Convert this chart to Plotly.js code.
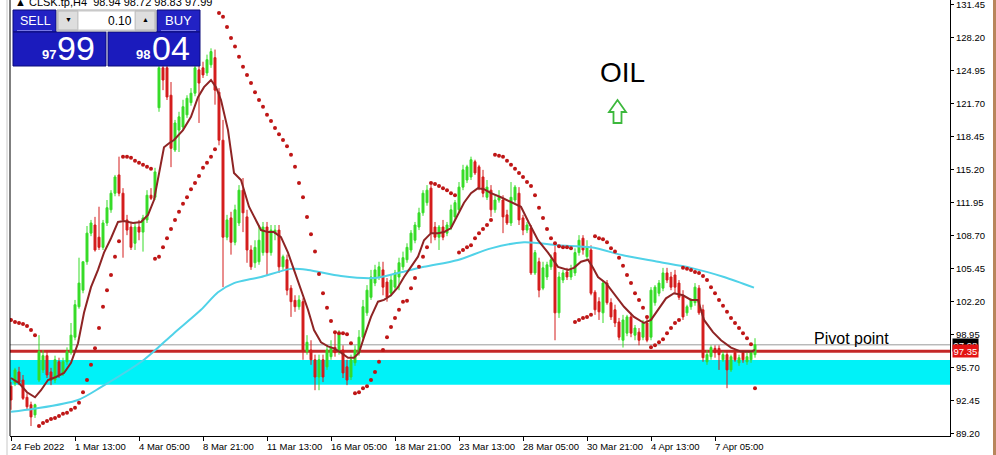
<!DOCTYPE html>
<html><head><meta charset="utf-8">
<script src="https://cdn.plot.ly/plotly-3.0.1.min.js"></script>
<style>html,body{margin:0;padding:0;background:#fff}#chart{width:996px;height:455px}</style>
</head><body><div id="chart"></div>
<script>
// ---- data ----
const openP = [
93.91,94.21,95.31,94.51,92.81,92.08,91.08,94.51,95.51,96.91,
95.31,94.51,96.31,95.21,96.31,97.21,98.73,101.73,103.36,106.16,
108.98,109.78,108.58,107.58,109.98,111.28,112.91,114.71,112.91,110.28,
109.58,107.98,109.58,109.08,110.28,112.71,112.51,121.33,125.26,125.26,
122.56,117.17,119.13,119.43,120.63,121.83,122.76,125.06,125.26,124.76,
125.56,126.26,122.86,118.13,108.58,110.48,108.08,109.98,113.21,110.58,
107.32,106.06,106.16,107.06,109.58,107.06,108.98,109.28,105.66,106.36,
103.56,102.36,101.73,102.23,97.31,97.47,96.51,94.81,96.51,95.81,
96.81,97.73,97.47,97.47,95.81,94.81,96.21,97.21,98.73,101.13,
102.66,104.06,104.66,105.36,104.16,103.06,103.66,104.66,105.66,106.36,
107.32,108.28,109.58,110.98,111.98,113.41,109.58,108.58,109.58,108.98,
109.58,110.58,111.28,113.51,114.21,114.51,116.01,115.51,114.51,112.51,
113.21,111.28,112.24,112.24,110.78,109.98,112.24,112.91,110.48,109.28,
109.48,105.06,106.16,103.56,104.66,105.66,107.06,101.13,104.36,105.16,
104.66,105.06,107.06,108.48,106.66,107.32,103.16,102.23,101.13,104.06,
102.13,101.43,100.23,98.43,99.13,100.73,98.93,99.23,98.73,100.13,
98.73,102.13,103.06,103.56,105.06,104.66,104.86,104.06,102.86,101.13,
101.73,102.13,103.56,101.43,96.31,96.81,97.63,97.63,96.51,97.01,
95.51,97.21,96.21,97.21,96.31,96.51,97.01];
const highP = [
94.31,95.71,95.81,95.01,93.21,92.38,92.18,98.93,97.47,97.47,
95.71,96.91,96.71,96.71,97.73,100.13,102.40,106.56,106.16,109.68,
110.28,110.58,111.58,110.28,112.24,113.21,114.71,116.51,113.41,110.78,
110.08,110.08,110.28,110.78,113.21,113.41,115.41,130.50,128.98,125.86,
123.86,120.13,120.93,122.11,122.56,123.26,125.86,125.56,125.86,126.56,
127.18,127.06,123.26,120.13,110.78,111.08,111.78,113.71,114.41,111.28,
107.78,108.28,109.78,110.08,110.08,109.78,109.78,109.78,106.86,106.86,
103.86,102.86,102.86,102.56,98.93,98.43,97.01,97.01,97.01,97.93,
98.43,99.23,99.43,97.93,96.51,97.01,97.93,99.43,102.40,103.86,
105.36,105.86,106.16,106.16,104.56,104.86,105.36,106.56,107.16,107.98,
109.28,110.08,111.48,113.21,113.71,113.71,110.08,109.78,110.28,110.08,
111.78,112.24,114.01,115.71,115.71,116.51,116.21,115.71,115.21,114.21,
113.71,112.71,113.21,112.71,111.28,114.01,113.71,113.51,110.78,110.08,
109.78,107.32,106.56,106.16,106.16,106.86,107.78,105.16,105.36,105.56,
105.86,107.48,108.78,108.78,108.28,107.78,103.36,102.66,104.36,104.36,
102.56,101.93,100.63,100.93,100.93,101.13,99.93,99.63,100.43,100.63,
103.66,103.86,104.36,105.56,105.56,105.16,105.36,104.36,103.36,101.93,
102.56,104.06,103.86,101.93,97.47,97.93,97.93,97.93,97.31,97.31,
97.01,97.47,97.01,97.47,97.31,97.47,98.63];
const lowP = [
91.58,93.91,94.01,92.55,91.58,89.98,90.78,94.31,95.21,94.71,
94.01,94.21,94.71,94.91,96.01,97.01,98.43,101.53,103.06,105.86,
108.68,107.16,107.32,107.32,109.68,110.98,112.61,112.61,106.56,108.78,
107.32,107.32,108.28,107.16,109.98,112.24,112.24,120.93,123.06,122.09,
115.48,116.97,116.97,119.13,120.33,121.53,122.46,119.83,124.26,124.46,
125.26,121.63,117.63,103.66,108.28,106.86,107.78,109.68,109.08,106.06,
105.36,105.56,105.86,106.76,104.86,106.76,108.28,105.06,105.36,102.86,
100.73,101.23,101.43,96.51,97.01,96.01,93.51,93.51,94.31,95.51,
96.51,96.81,97.01,94.71,94.01,94.51,95.91,96.91,98.43,100.83,
102.40,103.76,104.36,102.86,102.23,102.76,103.36,103.36,105.36,106.06,
107.06,107.98,109.28,110.68,111.68,107.98,108.28,107.32,108.28,108.68,
109.28,110.28,110.98,113.21,113.91,114.21,114.71,113.21,112.51,112.24,
110.58,110.98,111.98,108.98,109.78,109.68,111.98,109.78,108.78,108.98,
104.86,104.86,102.66,103.36,104.36,105.36,98.43,100.63,104.06,104.36,
104.36,104.76,106.76,106.86,106.36,102.86,100.93,100.43,100.13,101.93,
100.43,99.73,98.43,97.71,98.83,98.73,98.43,97.93,98.43,98.23,
98.43,101.83,102.76,103.26,104.06,103.36,103.06,102.40,100.43,100.83,
101.43,101.83,100.93,96.31,96.01,96.51,96.71,95.51,96.31,93.71,
95.31,96.31,95.91,96.21,96.01,96.21,96.71];
const closeP = [
92.55,95.51,94.31,92.71,91.88,90.88,92.08,97.31,96.91,95.01,
94.51,96.51,95.01,96.31,97.31,98.93,101.93,104.06,106.16,108.98,
109.98,107.32,107.58,109.98,111.48,112.91,114.51,112.91,110.28,109.28,
107.58,109.58,109.08,110.48,112.71,112.41,115.01,125.26,124.06,122.39,
117.33,119.83,120.43,121.43,122.26,122.76,125.26,123.76,124.56,126.06,
126.86,123.06,118.13,108.58,110.28,108.08,111.28,113.21,110.98,107.32,
105.66,107.58,108.28,109.58,107.06,109.28,109.28,105.66,106.66,103.36,
102.23,101.73,102.40,97.47,98.23,96.51,94.81,96.51,94.81,97.47,
97.73,97.21,99.13,95.21,94.51,96.51,97.47,98.73,101.73,103.36,
104.66,105.36,105.66,103.66,102.66,104.36,105.06,106.06,106.56,107.58,
108.98,109.78,110.98,112.91,113.21,108.98,108.58,109.58,108.58,109.78,
111.28,111.98,113.51,115.21,115.51,116.21,114.91,113.51,112.91,113.51,
111.28,112.24,112.51,110.58,109.98,112.51,113.51,110.28,109.28,109.78,
105.06,107.06,103.36,105.56,105.86,106.36,101.13,104.66,105.06,104.66,
105.36,107.06,108.28,107.32,107.58,103.06,101.43,101.23,104.06,102.13,
100.73,100.13,98.73,100.43,100.73,99.13,99.63,98.43,100.13,98.43,
103.36,103.66,104.06,105.06,104.36,103.66,103.66,102.66,100.73,101.73,
102.40,103.66,101.13,96.71,97.01,97.71,97.21,97.01,97.01,95.51,
96.81,96.51,96.71,96.51,96.81,97.21,97.99];
const sarP = [
100.43,100.23,100.13,100.03,99.83,99.43,98.93,89.98,90.28,90.48,
90.68,90.78,90.98,91.18,91.28,91.58,91.78,92.28,93.31,94.51,
96.01,97.63,99.63,101.73,103.36,104.86,106.66,108.18,116.51,116.51,
116.41,116.11,115.91,115.71,115.51,115.31,106.46,106.66,107.58,108.48,
109.38,110.28,111.08,111.88,112.51,113.31,113.91,114.61,115.41,115.91,
116.51,117.23,130.66,130.28,129.29,128.20,127.36,126.36,125.36,124.56,
123.76,122.86,122.09,121.43,120.63,120.03,119.33,118.73,118.15,117.53,
116.71,115.51,113.91,112.51,110.58,108.88,107.16,104.96,103.06,101.63,
100.33,99.23,99.13,99.13,99.03,98.13,93.21,93.31,93.71,93.91,
94.51,95.31,96.31,97.47,98.73,99.73,100.63,101.43,102.23,102.33,
103.56,104.56,105.66,106.66,107.58,113.91,113.81,113.61,113.41,113.21,
112.91,112.71,107.06,107.32,107.58,107.78,108.48,108.98,109.38,109.78,
110.28,116.71,116.61,116.51,116.11,115.71,115.31,114.91,114.51,114.01,
113.61,112.71,111.48,110.48,109.38,108.48,107.98,107.68,107.58,107.58,
107.48,100.23,100.43,100.63,100.73,100.93,108.68,108.48,108.38,108.08,
107.48,107.16,106.56,105.76,104.86,104.06,103.06,102.40,101.63,100.73,
97.73,97.93,98.23,98.53,99.13,99.63,100.13,100.43,105.56,105.46,
105.36,105.16,105.06,104.76,104.36,103.66,103.06,102.40,101.83,101.23,
100.63,100.13,99.63,99.13,98.63,98.03,93.71];
// short moving average (bar index, price)
const maFastIdx = [0,2,4,6,7.5,9.25,11.25,13.25,15,16.75,18.25,20,21.75,23.25,25,26.75,28.25,30.5,32.5,34.25,35.75,37,38.25,39.5,40.75,43,45,46.75,48.25,50,51.25,52.5,54.25,55.75,57.5,59.5,60.75,62.5,64.25,65.75,67.5,69.25,70.75,72.5,74.25,75.75,77.5,79.25,80.75,82.5,84.25,85.75,87,88.25,90,91.75,93.25,95,96.75,98.25,100,101.75,103.25,105,106.75,108.25,110,111.75,113.25,115,116.75,118.25,120,122.5,125,127.5,129.5,131.75,134.25,136.75,139.25,140.75,142.5,144.25,145.5,146.75,148.75,150.75,153.25,155.75,158.25,160,161.75,163.75,165.75,168,170,171.75,173.25,175.5,177.5,180,182.5,185,186];
const maFastVal = [94.71,94.21,93.31,92.81,93.51,94.51,94.81,95.21,96.21,98.13,101.13,103.66,105.36,107.06,108.48,110.08,110.18,109.98,110.08,110.78,112.24,114.71,117.43,117.83,118.15,119.13,120.43,122.36,123.36,124.06,123.36,122.09,119.13,114.91,114.21,111.58,110.58,109.28,109.08,109.08,108.58,107.06,105.36,103.36,101.43,99.43,98.23,97.83,97.63,97.21,96.71,96.71,97.21,98.73,100.73,102.23,102.40,102.86,103.66,104.66,105.66,106.66,108.28,108.98,108.98,109.08,109.48,110.78,111.98,112.91,113.41,113.31,112.91,112.51,112.08,111.58,109.98,108.28,107.06,105.66,105.36,105.56,106.16,106.36,105.56,104.66,104.06,103.06,101.73,100.73,100.13,100.43,101.41,102.56,103.06,102.86,102.40,102.40,100.43,99.23,98.43,97.71,97.31,97.31,97.47];
// long moving average (bar index, price)
const maSlowIdx = [0,5.75,16.75,22.5,33.25,40.75,47.5,51.75,55.75,60,62.5,70,74.25,82.5,90.75,96.75,103.25,111.75,120,128.25,136.75,145,153.25,161.75,170,178.25,185.75];
const maSlowVal = [91.38,91.68,92.55,93.81,96.51,99.13,101.43,103.16,104.06,104.46,104.66,105.46,105.36,104.76,104.56,105.06,105.66,106.34,107.48,108.08,107.78,107.58,106.78,106.16,105.56,104.66,103.61];
// levels
const bandTop = 96.49, bandBottom = 94.04;
const pivotLevel = 97.35, lastPrice = 97.98;
// axes
const xTickIdx = [0,16,32,48,64,80,96,112,128,144,160,176];
const xTickText = ['24 Feb 2022','1 Mar 13:00','4 Mar 05:00','8 Mar 21:00','11 Mar 13:00','16 Mar 05:00','18 Mar 21:00','23 Mar 13:00','28 Mar 05:00','30 Mar 21:00','4 Apr 13:00','7 Apr 05:00'];
const yTickVals = [89.20,92.45,95.70,98.95,102.20,105.45,108.70,111.95,115.20,118.45,121.70,124.95,128.20,131.45];
const headerText = '\u25B2 CLSK.tp,H4  98.94 98.72 98.83 97.99';

// ---- drawing ----
const idx = openP.map((_, i) => i);
const PL = 10, PR = 950, PT = 0, PB = 436;
const X = px => (px - PL) / (PR - PL);
const Y = py => 1 - (py - PT) / (PB - PT);
const FONT = 'Liberation Sans, Arial, sans-serif';

function rect(x0, y0, x1, y1, fill, line, lw) {
  return {type:'rect', xref:'paper', yref:'paper', x0:X(x0), x1:X(x1), y0:Y(y0), y1:Y(y1),
    fillcolor:fill, line:{color:line || fill, width: lw === undefined ? 1 : lw}, layer:'above'};
}
function txt(px, py, text, size, color, opts) {
  return Object.assign({xref:'paper', yref:'paper', x:X(px), y:Y(py), text:text, showarrow:false,
    xanchor:'center', yanchor:'middle', font:{family:FONT, size:size, color:color}, borderpad:0}, opts || {});
}

const traces = [
  {type:'scatter', mode:'lines', x:maSlowIdx, y:maSlowVal, line:{color:'#50d2e8', width:2, shape:'spline', smoothing:0.8}, hoverinfo:'skip'},
  {type:'candlestick', x:idx, open:openP, high:highP, low:lowP, close:closeP,
   increasing:{line:{color:'#36dc28', width:1}, fillcolor:'#36dc28'},
   decreasing:{line:{color:'#d41c1c', width:1}, fillcolor:'#d41c1c'},
   whiskerwidth:0, hoverinfo:'skip'},
  {type:'scatter', mode:'lines', x:maFastIdx, y:maFastVal, line:{color:'#8e2424', width:2, shape:'linear'}, hoverinfo:'skip'},
  {type:'scatter', mode:'markers', x:idx, y:sarP, marker:{size:4, color:'#bf1616', symbol:'circle', line:{width:0}}, hoverinfo:'skip'}
];

const arrowPts = [[617.5,100],[626,112],[621.5,112],[621.5,123],[613.5,123],[613.5,112],[609,112]];
const arrowPath = 'M' + arrowPts.map(p => X(p[0]) + ',' + Y(p[1])).join(' L') + ' Z';

const shapes = [
  {type:'rect', xref:'paper', yref:'y', x0:0, x1:1, y0:bandBottom, y1:bandTop, fillcolor:'#00f2f8', line:{width:0}, layer:'below'},
  {type:'line', xref:'paper', yref:'y', x0:0, x1:1, y0:lastPrice, y1:lastPrice, line:{color:'#9a9a9a', width:1}, layer:'below'},
  {type:'line', xref:'paper', yref:'y', x0:0, x1:1, y0:pivotLevel, y1:pivotLevel, line:{color:'#c42828', width:3}, layer:'below'},
  {type:'line', xref:'paper', yref:'paper', x0:0, x1:0, y0:0, y1:1, line:{color:'#000', width:1}},
  {type:'line', xref:'paper', yref:'paper', x0:X(7), x1:X(7), y0:Y(455), y1:Y(0), line:{color:'#c8c8c8', width:1}},
  rect(993, 0, 996, 455, '#b8865c', '#b8865c', 0),
  {type:'path', xref:'paper', yref:'paper', path:arrowPath, line:{color:'#3cb83c', width:1.8}, fillcolor:'rgba(255,255,255,0)'},
  // trade panel
  rect(13, 10, 56, 32, '#2222c4', '#0c0c7a'),
  rect(157, 10, 200, 32, '#2222c4', '#0c0c7a'),
  rect(13, 32, 106, 66, '#1b1bbd', '#0c0c7a'),
  rect(108, 32, 200, 66, '#1b1bbd', '#0c0c7a'),
  rect(57, 10, 156, 31, '#ececec', '#a8a8a8'),
  rect(58, 11, 78, 30, '#dedede', '#b4b4b4'),
  rect(135, 11, 155, 30, '#dedede', '#b4b4b4'),
  rect(78, 11, 135, 30, '#ffffff', '#c8c8c8'),
  {type:'line', xref:'paper', yref:'paper', x0:X(17), x1:X(52), y0:Y(30.5), y1:Y(30.5), line:{color:'#7676e8', width:1}},
  {type:'line', xref:'paper', yref:'paper', x0:X(161), x1:X(196), y0:Y(30.5), y1:Y(30.5), line:{color:'#7676e8', width:1}}
];

const annotations = [
  txt(14, 2, headerText, 11, '#000', {xanchor:'left'}),
  txt(622, 72, 'OIL', 28, '#000'),
  txt(851, 338, 'Pivot point', 16, '#000'),
  txt(35, 21, 'SELL', 12.5, '#fff'),
  txt(178, 21, 'BUY', 13, '#fff'),
  txt(68, 20, '\u25BC', 7, '#000'),
  txt(145, 20, '\u25B2', 7, '#000'),
  txt(133, 20.5, '0.10', 12, '#000', {xanchor:'right'}),
  txt(49, 54, '<b>97</b>', 13, '#fff'),
  txt(76, 48.5, '99', 34, '#fff'),
  txt(143, 54, '<b>98</b>', 13, '#fff'),
  txt(171, 48.5, '04', 34, '#fff'),
  {xref:'paper', yref:'y', x:X(952), y:lastPrice, text:'97.98', showarrow:false, xanchor:'left', yanchor:'middle',
   bgcolor:'#000', font:{family:FONT, size:9.5, color:'#fff'}, borderpad:0.5},
  {xref:'paper', yref:'y', x:X(952), y:pivotLevel, text:'97.35', showarrow:false, xanchor:'left', yanchor:'middle',
   bgcolor:'#e41414', font:{family:FONT, size:9.5, color:'#fff'}, borderpad:0.5}
];
xTickIdx.forEach((v, k) => annotations.push({xref:'x', yref:'paper', x:v, y:Y(446.5), text:xTickText[k],
  showarrow:false, xanchor:'left', yanchor:'middle', xshift:-1, font:{family:FONT, size:9.5, color:'#000'}, borderpad:0}));

const layout = {
  width:996, height:455, margin:{l:PL, r:996-PR, t:PT, b:455-PB},
  paper_bgcolor:'#fff', plot_bgcolor:'#fff', showlegend:false, dragmode:false,
  xaxis:{range:[-0.25, 234.75], showgrid:false, zeroline:false, showline:true, linecolor:'#000', linewidth:1,
    tickmode:'array', tickvals:xTickIdx, ticks:'outside', ticklen:4, tickcolor:'#000', showticklabels:false,
    rangeslider:{visible:false}, fixedrange:true},
  yaxis:{range:[89.0, 131.94], side:'right', showgrid:false, zeroline:false, showline:true, linecolor:'#000', linewidth:1,
    tickmode:'array', tickvals:yTickVals, tickformat:'.2f', ticks:'outside', ticklen:3, tickcolor:'#000',
    ticklabeloverflow:'allow', tickfont:{family:FONT, size:9.5, color:'#000'}, fixedrange:true},
  shapes:shapes, annotations:annotations
};
Plotly.newPlot('chart', traces, layout, {staticPlot:true, displayModeBar:false});
</script></body></html>
